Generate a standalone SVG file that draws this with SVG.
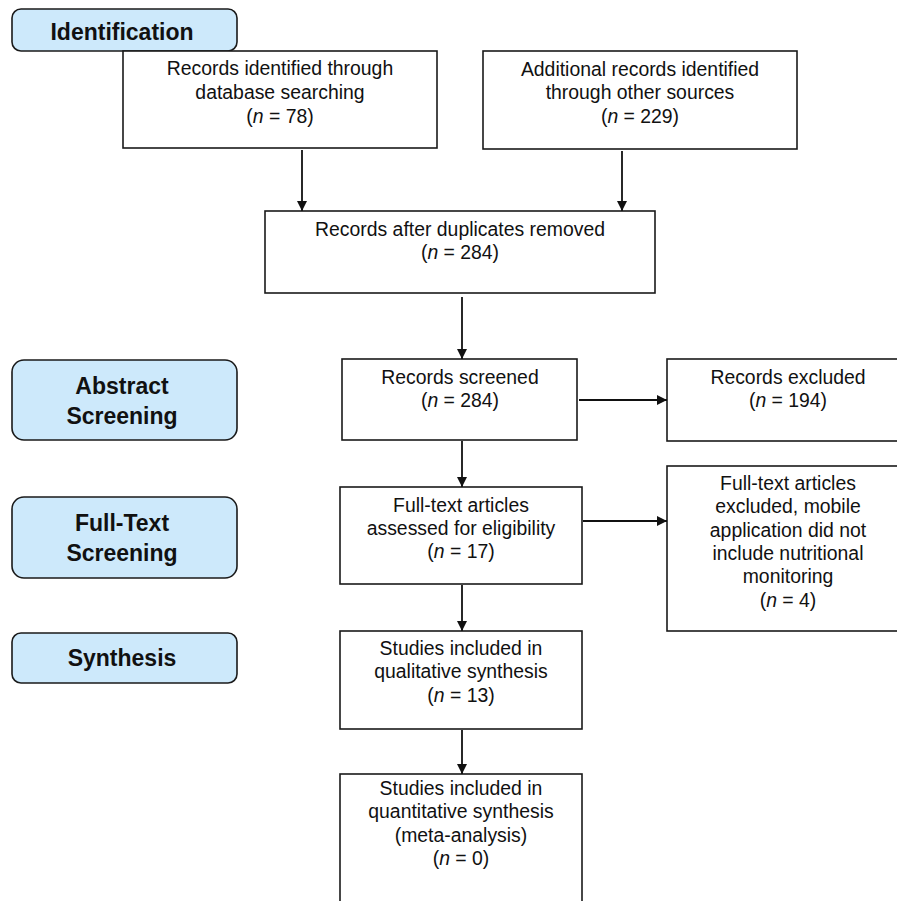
<svg xmlns="http://www.w3.org/2000/svg" width="897" height="901" viewBox="0 0 897 901">
<style>
.stage{fill:#cde9fb;stroke:#1a1a1a;stroke-width:1.6}
.box{fill:#fff;stroke:#1a1a1a;stroke-width:1.6}
.lbl{font-family:"Liberation Sans",Arial,sans-serif;font-size:23px;font-weight:bold;fill:#111;text-anchor:middle}
.t{font-family:"Liberation Sans",Arial,sans-serif;font-size:19.4px;fill:#111;text-anchor:middle}
.e{stroke:#111;stroke-width:1.8;fill:none;marker-end:url(#ah)}
</style>
<defs>
<marker id="ah" viewBox="0 0 10 10" refX="10" refY="5" markerWidth="10" markerHeight="10" markerUnits="userSpaceOnUse" orient="auto">
<path d="M0,0 L10,5 L0,10 z" fill="#111"/>
</marker>
</defs>
<rect width="897" height="901" fill="#fff"/>
<g id="stage-identification">
<rect class="stage" x="12" y="9" width="225" height="42" rx="9"/>
<text class="lbl" x="122" y="40">Identification</text>
</g>
<g id="stage-abstract">
<rect class="stage" x="12" y="360" width="225" height="80" rx="12"/>
<text class="lbl" x="122" y="394">Abstract</text>
<text class="lbl" x="122" y="424">Screening</text>
</g>
<g id="stage-fulltext">
<rect class="stage" x="12" y="497" width="225" height="81" rx="12"/>
<text class="lbl" x="122" y="531">Full-Text</text>
<text class="lbl" x="122" y="561">Screening</text>
</g>
<g id="stage-synthesis">
<rect class="stage" x="12" y="633" width="225" height="50" rx="9"/>
<text class="lbl" x="122" y="666">Synthesis</text>
</g>
<g id="n-database">
<rect class="box" x="123" y="51" width="314" height="97"/>
<text class="t" x="280" y="75">Records identified through</text>
<text class="t" x="280" y="99">database searching</text>
<text class="t" x="280" y="123">(<tspan font-style="italic">n</tspan> = 78)</text>
</g>
<g id="n-other">
<rect class="box" x="483" y="51" width="314" height="98"/>
<text class="t" x="640" y="76">Additional records identified</text>
<text class="t" x="640" y="99">through other sources</text>
<text class="t" x="640" y="123">(<tspan font-style="italic">n</tspan> = 229)</text>
</g>
<g id="n-dedup">
<rect class="box" x="265" y="211" width="390" height="82"/>
<text class="t" x="460" y="236">Records after duplicates removed</text>
<text class="t" x="460" y="259">(<tspan font-style="italic">n</tspan> = 284)</text>
</g>
<g id="n-screened">
<rect class="box" x="342" y="359" width="235" height="81"/>
<text class="t" x="460" y="384">Records screened</text>
<text class="t" x="460" y="407">(<tspan font-style="italic">n</tspan> = 284)</text>
</g>
<g id="n-excluded">
<rect class="box" x="667" y="359" width="242" height="82"/>
<text class="t" x="788" y="384">Records excluded</text>
<text class="t" x="788" y="407">(<tspan font-style="italic">n</tspan> = 194)</text>
</g>
<g id="n-fulltext">
<rect class="box" x="340" y="487" width="242" height="97"/>
<text class="t" x="461" y="512">Full-text articles</text>
<text class="t" x="461" y="535">assessed for eligibility</text>
<text class="t" x="461" y="558">(<tspan font-style="italic">n</tspan> = 17)</text>
</g>
<g id="n-ftexcluded">
<rect class="box" x="667" y="466" width="242" height="165"/>
<text class="t" x="788" y="490">Full-text articles</text>
<text class="t" x="788" y="513">excluded, mobile</text>
<text class="t" x="788" y="537">application did not</text>
<text class="t" x="788" y="560">include nutritional</text>
<text class="t" x="788" y="583">monitoring</text>
<text class="t" x="788" y="607">(<tspan font-style="italic">n</tspan> = 4)</text>
</g>
<g id="n-qualitative">
<rect class="box" x="340" y="631" width="242" height="98"/>
<text class="t" x="461" y="655">Studies included in</text>
<text class="t" x="461" y="678">qualitative synthesis</text>
<text class="t" x="461" y="702">(<tspan font-style="italic">n</tspan> = 13)</text>
</g>
<g id="n-quantitative">
<rect class="box" x="340" y="774" width="242" height="140"/>
<text class="t" x="461" y="795">Studies included in</text>
<text class="t" x="461" y="818">quantitative synthesis</text>
<text class="t" x="461" y="842">(meta-analysis)</text>
<text class="t" x="461" y="865">(<tspan font-style="italic">n</tspan> = 0)</text>
</g>
<g id="connectors">
<path class="e" d="M302,150 V211"/>
<path class="e" d="M622,151 V211"/>
<path class="e" d="M462,297 V359"/>
<path class="e" d="M579,400 H667"/>
<path class="e" d="M462,441 V487"/>
<path class="e" d="M583,521 H667"/>
<path class="e" d="M462,585 V631"/>
<path class="e" d="M462,730 V774"/>
</g>
</svg>
